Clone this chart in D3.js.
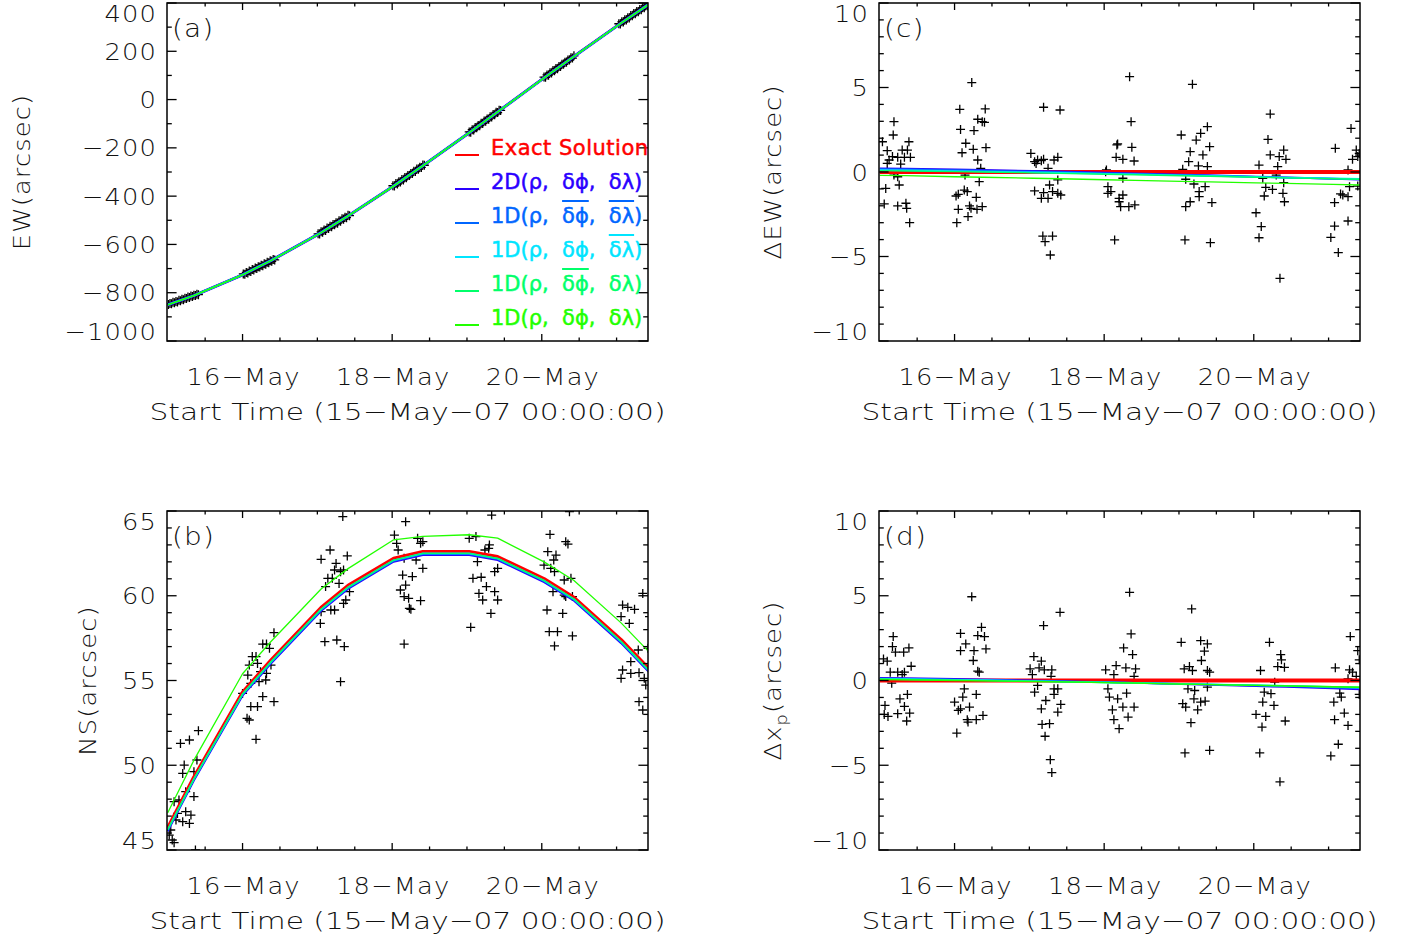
<!DOCTYPE html>
<html>
<head>
<meta charset="utf-8">
<script src="https://cdn.jsdelivr.net/npm/d3@7"></script>
<style>
  body { margin: 0; background: #fff; }
  .axis-text { font-family: "DejaVu Sans", sans-serif; font-weight: 200; fill: #111; }
  .legend-text { font-family: "DejaVu Sans", sans-serif; font-weight: 400; }
</style>
</head>
<body>
<div id="chart"></div>
<script>
// times (days after 15-May-07 00:00) where the fitted curves are evaluated
const days = [0, 0.35, 1.0, 1.38, 2.05, 2.41, 3.02, 3.41, 4.03, 4.41, 5.03, 5.43, 6.06, 6.43];

// panel (a) EW curves
const ewExact  = [-850, -812, -726, -667, -551, -482, -358, -274, -137, -51, 90, 179, 317, 395];
const ew2D     = [-849.8, -811.8, -725.9, -666.9, -550.9, -482.0, -358.0, -274.1, -137.2, -51.2, 89.7, 178.7, 316.6, 394.5];
const ew1Dbb   = [-849.8, -811.8, -725.9, -666.9, -551.0, -482.0, -358.1, -274.1, -137.2, -51.2, 89.7, 178.7, 316.6, 394.6];
const ew1Dl    = [-849.9, -811.9, -725.9, -667.0, -551.0, -482.1, -358.1, -274.1, -137.2, -51.2, 89.7, 178.7, 316.6, 394.6];
const ew1Dp    = [-849.9, -811.9, -726.0, -667.0, -551.1, -482.1, -358.1, -274.2, -137.2, -51.3, 89.7, 178.7, 316.6, 394.6];
const ew1D     = [-850.2, -812.2, -726.3, -667.3, -551.4, -482.4, -358.5, -274.5, -137.6, -51.6, 89.4, 178.3, 316.3, 394.2];

// panel (b) NS curves
const nsExact  = [46.3, 49.3, 54.3, 56.2, 59.3, 60.6, 62.2, 62.6, 62.6, 62.3, 61.0, 59.9, 57.4, 55.7];
const ns2D     = [46.1, 49.1, 54.1, 56.0, 59.1, 60.4, 62.0, 62.4, 62.4, 62.1, 60.8, 59.7, 57.2, 55.5];
const ns1Dbb   = [46.15, 49.15, 54.15, 56.05, 59.15, 60.45, 62.05, 62.45, 62.45, 62.15, 60.85, 59.75, 57.25, 55.55];
const ns1Dl    = [46.2, 49.2, 54.2, 56.1, 59.2, 60.5, 62.1, 62.5, 62.5, 62.2, 60.9, 59.8, 57.3, 55.6];
const ns1Dp    = [46.2, 49.2, 54.2, 56.1, 59.2, 60.5, 62.1, 62.5, 62.5, 62.2, 60.9, 59.8, 57.3, 55.6];
const ns1D     = [47.2, 50.3, 55.4, 57.3, 60.4, 61.6, 63.3, 63.5, 63.6, 63.4, 62.0, 60.9, 58.4, 56.7];

// panel (c) delta EW curves
const dewExact = [0, 0, 0, 0, 0, 0, 0, 0, 0, 0, 0, 0, 0, 0];
const dew2D    = [0.22, 0.2, 0.15, 0.12, 0.06, 0.03, -0.04, -0.08, -0.15, -0.19, -0.27, -0.32, -0.40, -0.45];
const dew1Dbb  = [0.18, 0.16, 0.11, 0.08, 0.02, -0.01, -0.07, -0.11, -0.18, -0.22, -0.29, -0.33, -0.40, -0.44];
const dew1Dl   = [0.12, 0.10, 0.06, 0.03, -0.02, -0.05, -0.10, -0.13, -0.19, -0.23, -0.29, -0.33, -0.38, -0.41];
const dew1Dp   = [0.08, 0.06, 0.02, 0.0, -0.05, -0.08, -0.13, -0.16, -0.22, -0.25, -0.31, -0.35, -0.40, -0.43];
const dew1D    = [-0.2, -0.22, -0.28, -0.31, -0.37, -0.40, -0.46, -0.49, -0.55, -0.58, -0.64, -0.67, -0.73, -0.77];

// panel (d) delta x_p curves
const dxExact  = [0, 0, 0, 0, 0, 0, 0, 0, 0, 0, 0, 0, 0, 0];
const dx2D     = [0.16, 0.14, 0.09, 0.06, 0.0, -0.04, -0.1, -0.14, -0.21, -0.26, -0.33, -0.38, -0.47, -0.53];
const dx1Dbb   = [0.12, 0.10, 0.06, 0.03, -0.02, -0.05, -0.1, -0.14, -0.2, -0.24, -0.3, -0.34, -0.42, -0.46];
const dx1Dl    = [0.1, 0.08, 0.04, 0.02, -0.03, -0.06, -0.11, -0.14, -0.19, -0.22, -0.28, -0.31, -0.38, -0.42];
const dx1Dp    = [0.08, 0.06, 0.02, 0.0, -0.05, -0.07, -0.12, -0.15, -0.2, -0.23, -0.28, -0.31, -0.37, -0.4];
const dx1D     = [0.06, 0.04, 0.0, -0.02, -0.06, -0.08, -0.13, -0.16, -0.21, -0.24, -0.29, -0.32, -0.37, -0.4];

// measured positions [day, value]
const ewPts = [
  [0.01,-849],[0.03,-845],[0.05,-846],[0.07,-840],[0.09,-842],[0.11,-836],[0.13,-838],[0.15,-831],[0.17,-833],[0.19,-827],[0.21,-829],
  [0.23,-823],[0.25,-824],[0.27,-818],[0.29,-820],[0.31,-814],[0.33,-816],[0.35,-810],[0.37,-812],[0.39,-806],[0.41,-808],
  [1.01,-722],[1.03,-724],[1.05,-716],[1.07,-718],[1.09,-710],[1.11,-712],[1.13,-704],[1.15,-706],[1.17,-698],[1.19,-700],[1.21,-692],
  [1.23,-694],[1.25,-686],[1.27,-688],[1.29,-680],[1.31,-682],[1.33,-674],[1.35,-676],[1.37,-668],[1.39,-670],[1.41,-662],[1.43,-664],
  [2.01,-556],[2.03,-557],[2.05,-548],[2.07,-550],[2.09,-540],[2.11,-542],[2.13,-532],[2.15,-534],[2.17,-525],[2.19,-527],[2.21,-517],
  [2.23,-519],[2.25,-510],[2.27,-512],[2.29,-502],[2.31,-504],[2.33,-494],[2.35,-496],[2.37,-487],[2.39,-489],[2.41,-479],[2.43,-481],
  [3.01,-357],[3.03,-358],[3.05,-348],[3.07,-350],[3.09,-340],[3.11,-341],[3.13,-331],[3.15,-333],[3.17,-323],[3.19,-324],[3.21,-314],
  [3.23,-315],[3.25,-306],[3.27,-306],[3.29,-297],[3.31,-298],[3.33,-288],[3.35,-289],[3.37,-280],[3.39,-281],[3.41,-271],[3.43,-272],
  [4.03,-134],[4.05,-135],[4.07,-125],[4.09,-126],[4.11,-116],[4.13,-117],[4.15,-107],[4.17,-108],[4.19,-98],[4.21,-99],[4.23,-89],
  [4.25,-90],[4.27,-80],[4.29,-81],[4.31,-71],[4.33,-72],[4.35,-62],[4.37,-63],[4.39,-53],[4.41,-54],[4.43,-44],[4.45,-45],
  [5.03,93],[5.05,92],[5.07,102],[5.09,101],[5.11,111],[5.13,110],[5.15,120],[5.17,119],[5.19,129],[5.21,128],[5.23,137],
  [5.25,137],[5.27,146],[5.29,146],[5.31,155],[5.33,155],[5.35,164],[5.37,164],[5.39,173],[5.41,172],[5.43,181],
  [6.03,314],[6.05,313],[6.07,322],[6.09,321],[6.11,331],[6.13,330],[6.15,339],[6.17,338],[6.19,348],[6.21,347],[6.23,356],
  [6.25,355],[6.27,365],[6.29,364],[6.31,373],[6.33,372],[6.35,381],[6.37,380],[6.39,390],[6.41,389],[6.43,397]
];
const nsPts = [
  [0.17,51.29],[0.29,51.49],[0.41,52.04],[0.39,50.31],[0.22,50.01],[0.2,49.52],[0.35,49.62],[0.24,48.44],[0.35,48.15],[0.085,47.85],
  [0.13,47.16],[0.24,47.26],[0.31,47.06],[0.11,46.77],[0.2,46.67],[0.29,46.57],[0.04,46.18],[0.06,45.59],[0.085,45.43],[0.02,45.88],[0.15,47.95],[0.37,45.0],
  [1.07,55.32],[1.0,54.24],[1.11,54.83],[1.13,56.41],[1.18,56.41],[1.2,56.01],[1.27,57.15],[1.32,57.15],[1.36,56.9],[1.42,57.82],[1.09,55.91],
  [1.24,55.52],[1.22,54.93],[1.31,55.03],[1.38,55.91],[1.32,55.42],[1.11,53.46],[1.2,53.46],[1.06,52.77],[1.09,52.67],[1.27,54.05],[1.42,53.75],[1.18,51.53],
  [2.34,64.67],[2.05,62.15],[2.17,62.7],[2.25,61.91],[2.4,62.35],[2.23,61.52],[2.14,61.03],[2.2,61.03],[2.11,60.54],[2.29,60.73],[2.31,61.42],[2.35,61.52],
  [2.43,60.24],[2.38,59.75],[2.35,59.55],[2.23,59.16],[2.18,59.16],[2.05,59.06],[2.04,58.37],[2.1,57.29],[2.26,57.39],[2.36,57.0],[2.31,54.93],
  [3.18,64.37],[3.03,63.58],[3.06,63.09],[3.08,62.7],[3.14,61.22],[3.18,60.63],[3.11,60.34],[3.16,59.95],[3.22,59.85],[3.23,59.26],[3.16,57.15],
  [3.16,62.21],[3.27,61.13],[3.38,59.71],[3.25,59.2],[3.34,63.39],[3.38,63.09],[3.41,63.19],[3.32,62.11],[3.41,61.62],
  [4.33,64.76],[4.03,63.39],[4.12,63.49],[4.3,63.0],[4.29,62.8],[4.24,62.7],[4.14,62.01],[4.08,61.03],[4.19,61.09],[4.26,60.54],[4.37,60.24],
  [4.16,60.14],[4.21,59.75],[4.41,59.75],[4.37,61.42],[4.41,61.62],[4.32,58.96],[4.05,58.14],
  [5.11,63.62],[5.32,63.19],[5.35,63.05],[5.08,62.6],[5.19,62.4],[5.16,62.11],[5.03,61.81],[5.12,61.62],[5.17,61.42],[5.3,60.93],[5.39,61.03],
  [5.15,60.24],[5.3,60.04],[5.32,59.95],[5.41,59.95],[5.07,59.16],[5.28,58.96],[5.1,57.88],[5.21,57.88],[5.41,57.63],[5.17,57.04],[5.37,64.96],
  [6.35,60.14],[6.08,59.45],[6.15,59.32],[6.24,59.2],[6.06,58.77],[6.17,58.37],[6.44,58.77],[6.42,56.9],[6.29,56.8],[6.19,56.11],[6.08,55.62],
  [6.19,55.42],[6.3,55.46],[6.06,55.13],[6.37,55.13],[6.39,54.73],[6.3,53.75],[6.35,53.26]
];
const dewPts = [
  [0.036,1.79],[0.1,1.26],[0.19,2.98],[0.18,2.19],[0.39,1.79],[0.3,1.3],[0.17,0.91],[0.24,0.87],[0.33,0.87],[0.41,0.87],[0.125,0.71],[0.1,0.51],
  [0.28,0.47],[0.19,-0.18],[0.24,-0.28],[0.26,-0.77],[0.08,-0.97],[0.06,-1.89],[0.24,-2.01],[0.35,-1.85],[0.36,-2.15],[0.4,-3.0],[0.37,1.3],
  [1.23,5.29],[1.07,3.71],[1.41,3.73],[1.31,3.12],[1.37,2.98],[1.4,2.94],[1.08,2.52],[1.26,2.45],[1.15,1.7],[1.25,1.34],[1.1,1.14],[1.42,1.44],
  [1.31,0.71],[1.35,0.22],[1.14,-0.18],[1.33,-0.57],[1.13,-1.07],[1.02,-1.42],[1.05,-1.32],[1.29,-1.5],[1.17,-1.16],[1.05,-2.21],[1.2,-2.01],
  [1.22,-2.15],[1.3,-2.21],[1.37,-2.05],[1.18,-2.64],[1.03,-3.0],
  [2.19,3.83],[2.41,3.67],[2.02,1.1],[2.07,0.61],[2.11,0.71],[2.16,0.67],[2.19,0.75],[2.09,0.51],[2.25,0.22],[2.33,0.71],[2.38,0.87],[2.38,-0.47],
  [2.27,-0.77],[2.07,-1.12],[2.19,-1.22],[2.16,-1.56],[2.25,-1.56],[2.31,-1.16],[2.38,-1.26],[2.42,-1.36],[2.18,-3.79],[2.21,-4.12],[2.31,-3.79],[2.28,-4.91],
  [3.34,5.64],[3.36,2.98],[3.17,1.6],[3.37,1.46],[3.16,0.87],[3.25,0.75],[3.4,0.65],[3.02,0.02],[3.25,-0.37],[3.05,-0.87],[3.09,-1.16],
  [3.25,-1.36],[3.2,-1.76],[3.22,-2.05],[3.33,-2.05],[3.41,-1.95],[3.14,-4.02],[3.18,1.66],[3.03,0.12],[3.2,-1.56],[3.05,-1.26],
  [4.18,5.19],[4.03,2.19],[4.23,1.89],[4.29,2.29],[4.38,2.68],[4.15,1.2],[4.32,1.01],[4.13,0.61],[4.26,0.36],[4.38,0.32],[4.05,0.16],
  [4.41,1.5],[4.09,-0.43],[4.2,-0.71],[4.35,-0.87],[4.27,-1.16],[4.27,-1.46],[4.15,-1.76],[4.09,-2.05],[4.44,-1.81],[4.08,-4.02],[4.42,-4.18],
  [5.22,3.43],[5.19,1.93],[5.4,1.3],[5.22,1.01],[5.34,0.91],[5.43,0.75],[5.07,0.41],[5.32,0.32],[5.12,-0.37],[5.3,-0.18],[5.4,-0.63],
  [5.16,-0.91],[5.25,-1.03],[5.14,-1.42],[5.39,-1.26],[5.41,-1.76],[5.03,-2.41],[5.1,-3.23],[5.07,-3.89],[5.35,-6.29],
  [6.3,2.58],[6.09,1.4],[6.37,1.3],[6.32,0.75],[6.39,0.91],[6.41,1.1],[6.26,0.12],[6.28,-0.87],[6.39,-0.83],[6.16,-1.3],[6.26,-1.46],
  [6.08,-1.81],[6.19,-1.36],[6.08,-3.2],[6.26,-2.9],[6.03,-3.87],[6.13,-4.77]
];
const dxpPts = [
  [0.18,2.59],[0.17,2.0],[0.21,1.67],[0.32,1.67],[0.39,1.92],[0.05,1.27],[0.1,1.14],[0.42,0.84],[0.14,0.49],[0.24,0.49],[0.3,0.35],[0.33,0.49],
  [0.16,-0.16],[0.27,-1.08],[0.37,-0.82],[0.07,-1.47],[0.06,-2.0],[0.11,-2.12],[0.24,-1.96],[0.33,-1.53],[0.4,-1.92],[0.36,-2.39],
  [1.23,4.94],[1.08,2.78],[1.36,3.14],[1.31,2.65],[1.4,2.59],[1.15,2.16],[1.08,1.76],[1.26,1.76],[1.42,1.86],[1.25,1.18],[1.31,0.55],[1.33,0.49],
  [1.13,-0.49],[1.11,-0.98],[1.29,-0.82],[1.0,-1.27],[1.05,-1.76],[1.08,-1.67],[1.2,-1.57],[1.17,-2.31],[1.18,-2.45],[1.29,-2.31],[1.38,-2.06],[1.03,-3.1],
  [2.19,3.24],[2.41,4.02],[2.06,1.41],[2.01,0.69],[2.16,1.14],[2.13,0.75],[2.2,0.63],[2.3,0.63],[2.04,0.35],[2.29,0.24],[2.11,-0.29],[2.07,-0.69],
  [2.33,-0.49],[2.38,-0.49],[2.33,-0.82],[2.22,-1.18],[2.42,-1.41],[2.16,-1.67],[2.38,-1.86],[2.17,-2.59],[2.27,-2.55],[2.21,-3.29],[2.28,-4.67],[2.3,-5.43],
  [3.34,5.2],[3.36,2.75],[3.26,1.92],[3.38,1.53],[3.16,0.88],[3.29,0.75],[3.42,0.69],[3.02,0.63],[3.13,0.35],[3.4,0.24],[3.05,-0.49],[3.3,-0.75],
  [3.07,-0.98],[3.18,-1.08],[3.25,-1.57],[3.4,-1.57],[3.11,-1.73],[3.13,-2.31],[3.32,-2.16],[3.2,-2.84],
  [4.17,4.22],[4.03,2.25],[4.29,2.35],[4.38,2.16],[4.34,1.73],[4.3,1.18],[4.07,0.69],[4.14,0.82],[4.18,0.59],[4.38,0.59],[4.41,0.49],[4.12,-0.49],
  [4.21,-0.59],[4.38,-0.39],[4.05,-1.37],[4.09,-1.57],[4.2,-1.08],[4.29,-1.27],[4.35,-1.22],[4.25,-1.73],[4.16,-2.49],[4.08,-4.27],[4.41,-4.12],
  [5.21,2.25],[5.36,1.53],[5.37,1.22],[5.41,0.78],[5.09,0.59],[5.32,0.82],[5.28,-0.1],[5.14,-0.69],[5.23,-0.78],[5.12,-1.27],[5.27,-1.47],
  [5.03,-2.0],[5.16,-2.12],[5.42,-2.39],[5.11,-2.75],[5.08,-4.27],[5.35,-5.98],
  [6.29,2.59],[6.39,1.76],[6.41,1.22],[6.09,0.75],[6.28,0.63],[6.32,0.49],[6.37,0.24],[6.26,0.1],[6.15,-0.75],[6.17,-0.98],[6.07,-1.27],
  [6.21,-1.92],[6.08,-2.31],[6.26,-2.65],[6.13,-3.76],[6.03,-4.45],[6.41,-0.82]
];

const seriesLabels = ["Exact Solution", "2D(ρ, δϕ, δλ)", "1D(ρ, δϕ, δλ)", "1D(ρ, δϕ, δλ)", "1D(ρ, δϕ, δλ)", "1D(ρ, δϕ, δλ)"];
// which of δϕ (0) / δλ (1) carry an overbar in each legend entry
const seriesBars = [[], [], [0, 1], [1], [0], []];
const seriesColors = ["#ff0000", "#2a00ff", "#0066ff", "#00e5ff", "#00ff6a", "#22ff00"];

const dateTicks = [1, 3, 5];
const dateLabels = ["16−May", "18−May", "20−May"];
const xTitle = "Start Time (15−May−07 00:00:00)";

const ewTicks = [-1000, -800, -600, -400, -200, 0, 200, 400];
const nsTicks = [45, 50, 55, 60, 65];
const dTicks = [-10, -5, 0, 5, 10];

const width = 1409;
const height = 938;
const fontSize = 23;
const stretch = 1.12;

const svg = d3.select("#chart")
    .append("svg")
    .attr("width", width)
    .attr("height", height);

svg.append("rect").attr("width", width).attr("height", height).attr("fill", "#fff");

const fmt = v => v < 0 ? "−" + Math.abs(v) : String(v);

const plusPath = "M-4.5,0H4.5M0,-4.5V4.5";

// wide, thin lettering like the plotting package's stroke font
const addLabel = (parent, x, y, text, anchor, size = fontSize, rotate = 0) => parent.append("text")
    .attr("class", "axis-text")
    .attr("transform", `translate(${x},${y}) rotate(${rotate}) scale(${stretch},1)`)
    .attr("text-anchor", anchor)
    .attr("font-size", size)
    .attr("letter-spacing", 1)
    .text(text);

const drawPanel = (p, idx) => {
    const x = d3.scaleLinear().domain([-0.01, 6.42]).range([p.left, p.right]);
    const y = d3.scaleLinear().domain(p.yDomain).range([p.bottom, p.top]);
    const g = svg.append("g");

    const clipId = "clip" + idx;
    svg.append("clipPath").attr("id", clipId)
        .append("rect")
        .attr("x", p.left).attr("y", p.top)
        .attr("width", p.right - p.left).attr("height", p.bottom - p.top);

    const plot = g.append("g").attr("clip-path", `url(#${clipId})`);

    plot.selectAll("path.pt")
        .data(p.points)
        .join("path")
        .attr("class", "pt")
        .attr("transform", d => `translate(${x(d[0])},${y(d[1])})`)
        .attr("d", plusPath)
        .attr("stroke", "#000")
        .attr("stroke-width", 1.3)
        .attr("fill", "none");

    const line = d3.line().x((d, i) => x(days[i])).y(d => y(d));
    p.curves.forEach((c, i) => {
        plot.append("path")
            .attr("d", line(c))
            .attr("fill", "none")
            .attr("stroke", seriesColors[i])
            .attr("stroke-width", p.widths[i])
            .attr("stroke-linejoin", "round");
    });

    // frame
    g.append("rect")
        .attr("x", p.left).attr("y", p.top)
        .attr("width", p.right - p.left).attr("height", p.bottom - p.top)
        .attr("fill", "none").attr("stroke", "#000").attr("stroke-width", 1.5);

    const tick = (x1, y1, x2, y2) => g.append("line")
        .attr("x1", x1).attr("y1", y1).attr("x2", x2).attr("y2", y2)
        .attr("stroke", "#000").attr("stroke-width", 1.3);

    // x ticks, every half day
    d3.range(0.5, 6.01, 0.5).forEach(t => {
        const len = dateTicks.includes(t) ? 7 : 3.5;
        tick(x(t), p.bottom, x(t), p.bottom - len);
        tick(x(t), p.top, x(t), p.top + len);
    });

    // y ticks
    const [y0, y1] = p.yDomain;
    d3.range(y0, y1 + p.yMinor / 2, p.yMinor).forEach(v => {
        const len = p.yTicks.includes(v) ? 9.6 : 4.8;
        tick(p.left, y(v), p.left + len, y(v));
        tick(p.right, y(v), p.right - len, y(v));
    });

    // y labels, end labels pulled inside the frame
    p.yTicks.forEach((v, i) => {
        let yy = y(v) + 8.5;
        if (i === 0) yy -= 9.5;
        if (i === p.yTicks.length - 1) yy += 10;
        addLabel(g, p.left - 10, yy, fmt(v), "end");
    });

    // x labels
    dateTicks.forEach((t, i) => addLabel(g, x(t) + 1, p.bottom + 44, dateLabels[i], "middle"));

    const cx = (p.left + p.right) / 2;
    g.append("text")
        .attr("class", "axis-text")
        .attr("x", cx - 258)
        .attr("y", p.bottom + 79)
        .attr("font-size", fontSize)
        .attr("textLength", 516)
        .attr("lengthAdjust", "spacingAndGlyphs")
        .text(xTitle);

    // y title
    const cy = (p.top + p.bottom) / 2;
    const yt = addLabel(g, p.yTitleX + 8, cy, null, "middle", fontSize, -90);
    p.yTitle.forEach(part => {
        const ts = yt.append("tspan").text(part.t);
        if (part.sub) ts.attr("font-size", 16).attr("dy", 6);
        if (part.up) ts.attr("dy", -6);
    });

    // panel tag
    addLabel(g, p.left + 5, p.top + 34, p.tag, "start", 25);

    return { x, y, g };
};

const panels = [
    { tag: "(a)", left: 167, right: 648, top: 3, bottom: 341, yDomain: [-1000, 400], yTicks: ewTicks, yMinor: 100,
      points: ewPts, curves: [ewExact, ew2D, ew1Dbb, ew1Dl, ew1Dp, ew1D], widths: [2.5, 3, 2.2, 1.8, 1.6, 1.2],
      yTitleX: 22, yTitle: [{ t: "EW(arcsec)" }] },
    { tag: "(b)", left: 167, right: 648, top: 511, bottom: 850, yDomain: [45, 65], yTicks: nsTicks, yMinor: 1,
      points: nsPts, curves: [nsExact, ns2D, ns1Dbb, ns1Dl, ns1Dp, ns1D], widths: [3.5, 1.8, 1.6, 1.6, 1.4, 1.3],
      yTitleX: 88, yTitle: [{ t: "NS(arcsec)" }] },
    { tag: "(c)", left: 879, right: 1360, top: 3, bottom: 341, yDomain: [-10, 10], yTicks: dTicks, yMinor: 1,
      points: dewPts, curves: [dewExact, dew2D, dew1Dbb, dew1Dl, dew1Dp, dew1D], widths: [4, 1.8, 1.6, 1.6, 1.4, 1.3],
      yTitleX: 773, yTitle: [{ t: "ΔEW(arcsec)" }] },
    { tag: "(d)", left: 879, right: 1360, top: 511, bottom: 850, yDomain: [-10, 10], yTicks: dTicks, yMinor: 1,
      points: dxpPts, curves: [dxExact, dx2D, dx1Dbb, dx1Dl, dx1Dp, dx1D], widths: [4, 1.8, 1.6, 1.6, 1.4, 1.3],
      yTitleX: 773, yTitle: [{ t: "Δx" }, { t: "p", sub: true }, { t: "(arcsec)", up: true }] }
];

panels.forEach(drawPanel);

// legend inside panel (a)
const legend = svg.append("g");
seriesLabels.forEach((label, i) => {
    const ly = 155 + i * 34;
    legend.append("line")
        .attr("x1", 455).attr("x2", 479)
        .attr("y1", ly).attr("y2", ly)
        .attr("stroke", seriesColors[i]).attr("stroke-width", 2);
    const txt = legend.append("text")
        .attr("class", "legend-text")
        .attr("x", 491)
        .attr("y", ly)
        .attr("font-size", 21)
        .attr("fill", seriesColors[i])
        .attr("stroke", seriesColors[i])
        .attr("stroke-width", 0.5)
        .attr("letter-spacing", i === 0 ? 0.5 : 0)
        .attr("xml:space", "preserve")
        .text(i === 0 ? label : label.replace(/, /g, ",  "));
    seriesBars[i].forEach(b => {
        const s = txt.text();
        const start = b === 0 ? s.indexOf("δϕ") : s.indexOf("δλ");
        const e0 = txt.node().getExtentOfChar(start);
        const e1 = txt.node().getExtentOfChar(start + 1);
        legend.append("line")
            .attr("x1", e0.x).attr("x2", e1.x + e1.width)
            .attr("y1", ly - 22).attr("y2", ly - 22)
            .attr("stroke", seriesColors[i]).attr("stroke-width", 2);
    });
});
</script>
</body>
</html>
